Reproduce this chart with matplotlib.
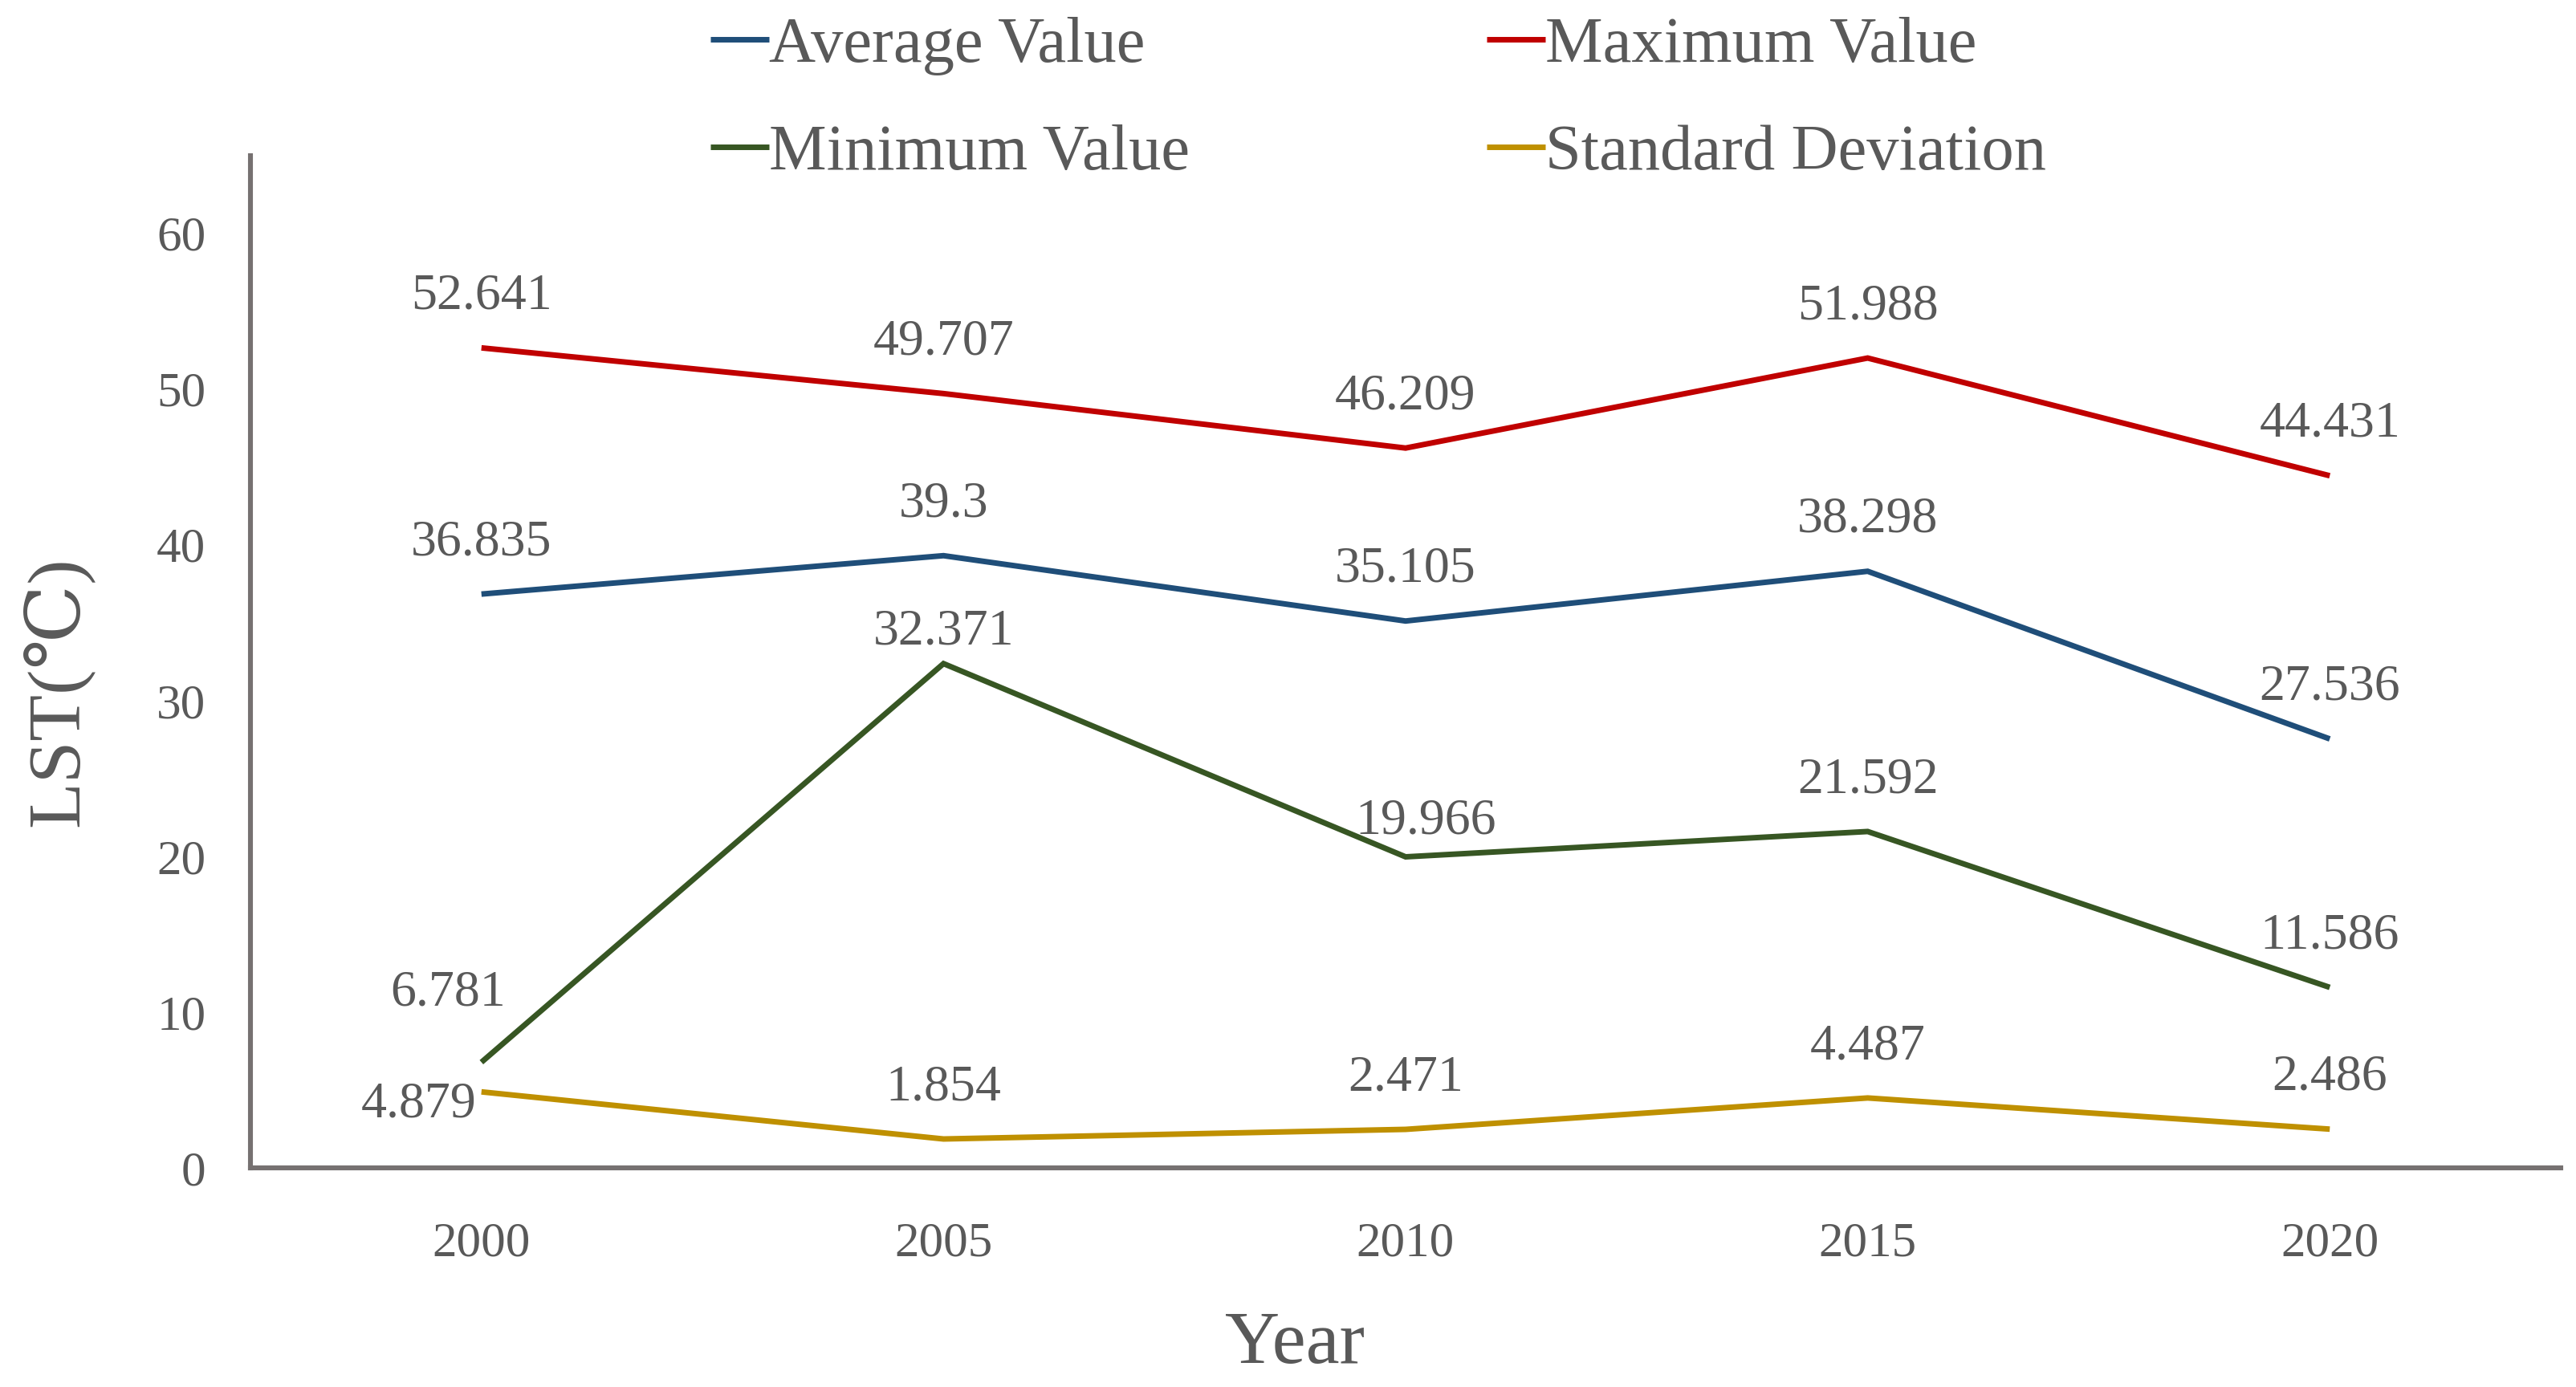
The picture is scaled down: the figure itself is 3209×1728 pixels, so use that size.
import matplotlib
matplotlib.use("Agg")
import matplotlib.pyplot as plt

# data
years = ["2000", "2005", "2010", "2015", "2020"]
avg_vals = [36.835, 39.3, 35.105, 38.298, 27.536]
max_vals = [52.641, 49.707, 46.209, 51.988, 44.431]
min_vals = [6.781, 32.371, 19.966, 21.592, 11.586]
std_vals = [4.879, 1.854, 2.471, 4.487, 2.486]
avg_labels = ["36.835", "39.3", "35.105", "38.298", "27.536"]
max_labels = ["52.641", "49.707", "46.209", "51.988", "44.431"]
min_labels = ["6.781", "32.371", "19.966", "21.592", "11.586"]
std_labels = ["4.879", "1.854", "2.471", "4.487", "2.486"]
y_ticks = [0, 10, 20, 30, 40, 50, 60]

TEXT = "#595959"
FONT = ["Liberation Serif", "DejaVu Serif"]
plt.rcParams["font.family"] = FONT

fig = plt.figure(figsize=(16.045, 8.64), dpi=200)
ax = fig.add_axes([0.0972, 0.158, 0.8969, 0.730])

x = list(range(len(years)))
series = [
  ("Average Value", avg_vals, avg_labels, "#1f4e79"),
  ("Maximum Value", max_vals, max_labels, "#c00000"),
  ("Minimum Value", min_vals, min_labels, "#375623"),
  ("Standard Deviation", std_vals, std_labels, "#bf9000"),
]
lines = {}
for name, vals, labs, col in series:
  ln, = ax.plot(x, vals, color=col, lw=2.5, label=name, solid_joinstyle="miter",
                solid_capstyle="butt")
  lines[name] = ln

# label offsets (points) per series
offsets = {
  "Average Value": [(0, 23)] * 5,
  "Maximum Value": [(0, 23)] * 5,
  "Minimum Value": [(-15, 31), (0, 14), (9, 16), (0, 23), (0, 23)],
  "Standard Deviation": [(-28, -6), (0, 23), (0, 23), (0, 23), (0, 23)],
}
for name, vals, labs, col in series:
  for i, (v, lab) in enumerate(zip(vals, labs)):
    dx, dy = offsets[name][i]
    ax.annotate(lab, (x[i], v), xytext=(dx, dy), textcoords="offset points",
                ha="center", va="center", fontsize=23, color=TEXT)

ax.set_xlim(-0.5, 4.5)
ax.set_ylim(0, 65)
ax.set_xticks(x)
ax.set_xticklabels(years)
ax.set_yticks(y_ticks)
ax.tick_params(length=0, labelsize=22, labelcolor=TEXT)
ax.tick_params(axis="y", pad=20)
ax.tick_params(axis="x", pad=24)

for s in ["top", "right"]:
  ax.spines[s].set_visible(False)
for s in ["left", "bottom"]:
  ax.spines[s].set_color("#767171")
  ax.spines[s].set_linewidth(2.2)

ax.set_ylabel("LST(℃)", fontsize=34, color=TEXT, va="center")
ax.yaxis.set_label_coords(-0.0835, 0.47)
ax.set_xlabel("Year", fontsize=34, color=TEXT, va="center")
ax.xaxis.set_label_coords(0.452, -0.175)

order = ["Average Value", "Maximum Value", "Minimum Value", "Standard Deviation"]
# ncol=2 fills column-wise, so reorder to get rows Avg/Max and Min/Std
handles = [lines[order[0]], lines[order[2]], lines[order[1]], lines[order[3]]]
names = [order[0], order[2], order[1], order[3]]
leg = fig.legend(handles, names, loc="upper center", bbox_to_anchor=(0.535, 1.03),
                 ncol=2, frameon=False, fontsize=29, handlelength=0.9,
                 handletextpad=0.0, columnspacing=4.6, labelspacing=0.75)
for t in leg.get_texts():
  t.set_color(TEXT)

fig.savefig("out.png", dpi=200)
